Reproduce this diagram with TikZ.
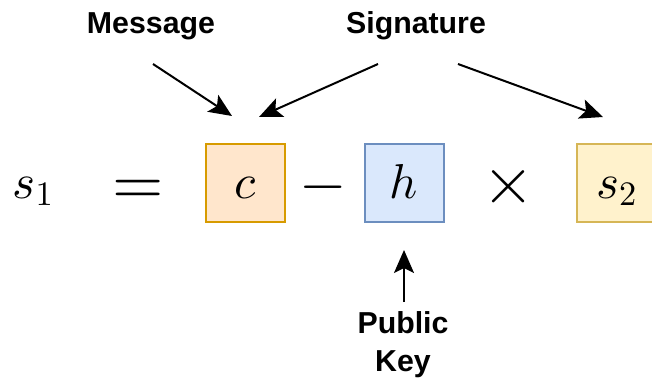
\RequirePackage{fix-cm}
\documentclass[tikz,border=0pt]{standalone}
\usepackage{fontspec}
\newfontfamily\labelfont{Liberation Sans}
\usetikzlibrary{arrows.meta}

% use the 10pt designs at every size for the math symbols
\DeclareFontShape{OML}{cmm}{m}{it}{<->cmmi10}{}
\DeclareFontShape{OMS}{cmsy}{m}{n}{<->cmsy10}{}
\DeclareFontShape{OT1}{cmr}{m}{n}{<->cmr10}{}

\definecolor{cfill}{HTML}{FFE6CC}
\definecolor{cdraw}{HTML}{D79B00}
\definecolor{hfill}{HTML}{DAE8FC}
\definecolor{hdraw}{HTML}{6C8EBF}
\definecolor{sfill}{HTML}{FFF2CC}
\definecolor{sdraw}{HTML}{D6B656}

\tikzset{
  termbox/.style={draw, line width=2pt, minimum width=79pt, minimum height=78pt,
    inner sep=0pt, anchor=center},
  mathsym/.style={inner sep=0pt, anchor=base,
    font=\fontsize{49}{58}\selectfont},
  opsym/.style={inner sep=0pt, anchor=base},
  tag/.style={inner sep=0pt, anchor=base, align=center,
    font=\labelfont\bfseries\fontsize{30.3}{38}\selectfont},
  pointer/.style={line width=2pt, -{Stealth[length=23pt, width=20pt, inset=5pt]}}
}

\begin{document}
\begin{tikzpicture}[x=1pt, y=-1pt]
  \useasboundingbox (0,0) rectangle (652,378);

  % boxed terms of the equation
  \node[termbox, draw=cdraw, fill=cfill] (cbox) at (245.5,183) {};
  \node[termbox, draw=hdraw, fill=hfill] (hbox) at (404.5,183) {};
  \node[termbox, draw=sdraw, fill=sfill] (sbox) at (616.5,183) {};

  % symbols on a common baseline
  \node[mathsym] (s1) at (33,198) {$s_1$};
  \node[mathsym] (c)  at (245.5,198) {$c$};
  \node[mathsym] (h)  at (404,198) {$h$};
  \node[mathsym] (s2) at (616.5,198) {$s_2$};

  % operators, centred on the math axis
  \node[opsym, font=\fontsize{66}{70}\selectfont] (eq) at (138.5,204.2) {$=$};
  \node[opsym, font=\fontsize{61}{66}\selectfont] (minus) at (323.5,202.3) {$-$};
  \node[opsym, font=\fontsize{67}{70}\selectfont] (times) at (509,203.8) {$\times$};

  % labels (the two-line one is placed by its last baseline)
  \node[tag] (msg) at (151,33) {Message};
  \node[tag] (sig) at (416,33) {Signature};
  \node[tag] (pk)  at (403,371) {Public\\Key};

  % arrow end points
  \coordinate (msgtail) at (153,64);
  \coordinate (msghead) at (232,116);
  \coordinate (sigtailA) at (378,64);
  \coordinate (sigheadA) at (259,117);
  \coordinate (sigtailB) at (458,64);
  \coordinate (sigheadB) at (603,117);
  \coordinate (pktail) at (404,302);
  \coordinate (pkhead) at (404,250);

  \draw[pointer] (msgtail) -- (msghead);
  \draw[pointer] (sigtailA) -- (sigheadA);
  \draw[pointer] (sigtailB) -- (sigheadB);
  \draw[pointer] (pktail) -- (pkhead);
\end{tikzpicture}
\end{document}
